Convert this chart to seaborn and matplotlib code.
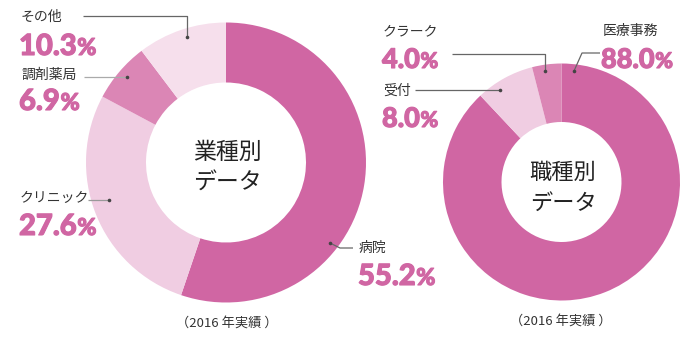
import matplotlib
matplotlib.use("Agg")
import matplotlib.pyplot as plt
import matplotlib.patheffects as pe
import seaborn as sns

# ---- data ----
ind_labels = ["病院", "クリニック", "調剤薬局", "その他"]
ind_values = [55.2, 27.6, 6.9, 10.3]
job_labels = ["医療事務", "受付", "クラーク"]
job_values = [88.0, 8.0, 4.0]
ind_title = ["業種別", "データ"]
job_title = ["職種別", "データ"]
caption = "（2016 年実績 ）"

sns.set_theme(style="white")
plt.rcParams["font.family"] = ["Noto Sans CJK JP", "DejaVu Sans"]

MAIN = "#D066A3"
LIGHT = "#F0CDE2"
MED = "#DB86B5"
VLIGHT = "#F6DFEC"
ind_colors = sns.color_palette([MAIN, LIGHT, MED, VLIGHT])
job_colors = sns.color_palette([MAIN, LIGHT, MED])

W, H = 700, 338
fig = plt.figure(figsize=(7, 3.38), dpi=100)
ax = fig.add_axes([0, 0, 1, 1])


def Y(py):
    return H - py


# donuts
ax.pie(ind_values, colors=ind_colors, startangle=90, counterclock=False,
       center=(226, Y(162.5)), radius=140,
       wedgeprops=dict(width=60, linewidth=0, edgecolor="none"))
ax.pie(job_values, colors=job_colors, startangle=90, counterclock=False,
       center=(561.5, Y(182)), radius=118.5,
       wedgeprops=dict(width=58.5, linewidth=0, edgecolor="none"))

ax.set_aspect("auto")
ax.set_xlim(0, W)
ax.set_ylim(0, H)
ax.axis("off")

# centre titles
ax.text(227, Y(152), ind_title[0], ha="center", va="center", fontsize=16.5, color="#222222")
ax.text(227, Y(183), ind_title[1], ha="center", va="center", fontsize=16.5, color="#222222")
ax.text(563, Y(172), job_title[0], ha="center", va="center", fontsize=16, color="#222222")
ax.text(563, Y(203), job_title[1], ha="center", va="center", fontsize=16, color="#222222")

# captions
ax.text(227, Y(323), caption, ha="center", va="center", fontsize=9.5, color="#333333")
ax.text(561, Y(321), caption, ha="center", va="center", fontsize=9.5, color="#333333")

fig.canvas.draw()
renderer = fig.canvas.get_renderer()
stroke = [pe.withStroke(linewidth=0.8, foreground=MAIN)]


def pct_text(x, ybase, value, size):
    t = ax.text(x, Y(ybase), f"{value:.1f}", ha="left", va="baseline",
                fontsize=size, color=MAIN, family="Lato", weight="black",
                path_effects=stroke)
    bb = t.get_window_extent(renderer=renderer)
    ax.text(bb.x1 + 0.5, Y(ybase), "%", ha="left", va="baseline",
            fontsize=size * 0.8, color=MAIN, family="Lato", weight="black",
            path_effects=stroke)


def label(x, yc, s):
    ax.text(x, Y(yc), s, ha="left", va="center", fontsize=10, color="#333333")


def leader(pts, color="#666666", lw=0.9):
    xs = [p[0] for p in pts]
    ys = [Y(p[1]) for p in pts]
    ax.plot(xs, ys, color=color, lw=lw, solid_capstyle="butt")
    ax.plot(xs[-1], ys[-1], "o", ms=2.6, color="#444444", mew=0)


# left chart labels (病院, クリニック, 調剤薬局, その他)
ind_pos = [
    (359, 248, 358, 285),
    (20, 198, 19, 235),
    (21, 75, 19, 110),
    (21, 17, 19, 55),
]
ind_leaders = [
    [(353, 248), (340, 248), (330, 243)],
    [(88, 200), (109, 200)],
    [(84, 77), (127, 77)],
    [(83, 16), (187, 16), (187, 37)],
]
ind_leader_col = ["#666666", "#999999", "#aaaaaa", "#666666"]
for lab, val, (lx, ly, px, pb), pts, lc in zip(ind_labels, ind_values, ind_pos,
                                                ind_leaders, ind_leader_col):
    label(lx, ly, lab)
    pct_text(px, pb, val, 21)
    leader(pts, color=lc)

# right chart labels (医療事務, 受付, クラーク)
job_pos = [
    (603, 31, 601, 68),
    (383, 91, 382, 127),
    (383, 31, 382, 68),
]
job_leaders = [
    [(600, 53), (582, 53), (574, 71)],
    [(415, 90), (500, 90)],
    [(452, 54), (545, 54), (545, 71)],
]
for lab, val, (lx, ly, px, pb), pts in zip(job_labels, job_values, job_pos, job_leaders):
    label(lx, ly, lab)
    pct_text(px, pb, val, 19.5)
    leader(pts)

fig.savefig("out.png", dpi=100)
